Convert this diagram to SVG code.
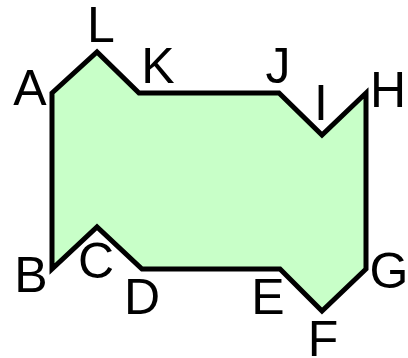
<svg xmlns="http://www.w3.org/2000/svg" width="408" height="358" viewBox="0 0 408 358">
  <style>
    .shape { fill: #c8ffc8; stroke: #000; stroke-width: 5; stroke-linejoin: miter; }
    .lbl { font-family: "Liberation Sans", Arial, sans-serif; font-size: 50px; fill: #000; text-anchor: middle; }
  </style>
  <rect width="408" height="358" fill="#fff"/>
  <polygon class="shape" points="52,93 97,52 139,93 279,93 322,135 366,93 366,269 322,311 280,269 142,269 97,227 52,269"/>
  <g id="labels">
    <text class="lbl" x="30" y="105">A</text>
    <text class="lbl" x="101" y="42">L</text>
    <text class="lbl" x="158" y="83">K</text>
    <text class="lbl" x="278" y="83">J</text>
    <text class="lbl" x="321" y="120">I</text>
    <text class="lbl" x="388" y="107">H</text>
    <text class="lbl" x="31" y="292">B</text>
    <text class="lbl" x="96" y="278">C</text>
    <text class="lbl" x="142" y="314">D</text>
    <text class="lbl" x="268" y="314">E</text>
    <text class="lbl" x="323" y="356">F</text>
    <text class="lbl" x="389" y="288">G</text>
  </g>
</svg>
